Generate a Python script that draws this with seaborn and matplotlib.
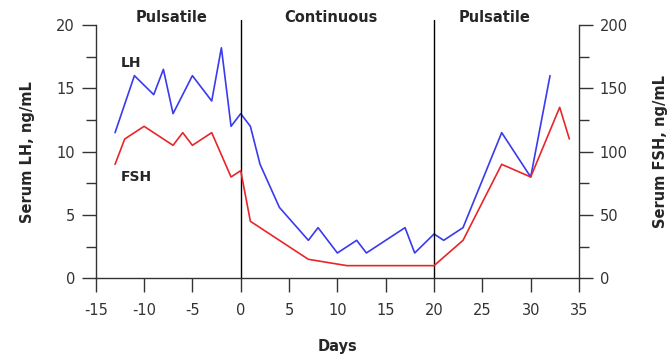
import numpy as np
import pandas as pd
import matplotlib
matplotlib.use("Agg")
import matplotlib.pyplot as plt
import seaborn as sns

# LH (left axis, ng/mL)
lh_days = [-13, -11, -9, -8, -7, -5, -3, -2, -1, 0, 1, 2, 4, 7, 8, 10, 12, 13, 17, 18, 20, 21, 23, 27, 30, 32]
lh_vals = [11.5, 16, 14.5, 16.5, 13, 16, 14, 18.2, 12, 13, 12, 9, 5.6, 3, 4, 2, 3, 2, 4, 2, 3.5, 3, 4, 11.5, 8, 16]

# FSH (right axis, ng/mL)
fsh_days = [-13, -12, -10, -7, -6, -5, -3, -1, 0, 1, 7, 11, 20, 23, 27, 30, 33, 34]
fsh_vals = [90, 110, 120, 105, 115, 105, 115, 80, 85, 45, 15, 10, 10, 30, 90, 80, 135, 110]

phases = ["Pulsatile", "Continuous", "Pulsatile"]
phase_pos = [-7.2, 9.3, 26.3]
switch_days = [0, 20]

lh = pd.DataFrame({"day": lh_days, "value": lh_vals})
fsh = pd.DataFrame({"day": fsh_days, "value": fsh_vals})

sns.set_style("ticks")
plt.rcParams["font.family"] = ["DejaVu Sans"]
plt.rcParams["axes.unicode_minus"] = False

fig = plt.figure(figsize=(6.68, 3.54), dpi=100)
ax = fig.add_axes([0.1433, 0.2138, 0.7235, 0.7156])
ax2 = ax.twinx()

sns.lineplot(data=lh, x="day", y="value", ax=ax, color="#3a3aee", linewidth=1.2)
sns.lineplot(data=fsh, x="day", y="value", ax=ax2, color="#e8262a", linewidth=1.2)

ax.set_xlim(-15, 35)
ax.set_ylim(0, 20)
ax2.set_ylim(0, 200)
ax.set_xticks(np.arange(-15, 36, 5))
ax.set_yticks(np.arange(0, 21, 5))
ax.set_yticks(np.arange(2.5, 20, 5), minor=True)
ax2.set_yticks(np.arange(0, 201, 50))
ax2.set_yticks(np.arange(25, 200, 50), minor=True)

for a in (ax, ax2):
    a.spines["top"].set_visible(False)
    for s in a.spines.values():
        s.set_color("#333333")
        s.set_linewidth(1.0)
ax.spines["right"].set_visible(False)
ax2.spines["left"].set_visible(False)
ax2.spines["bottom"].set_visible(False)

ax.tick_params(axis="y", which="major", length=10, width=1, color="#333333",
               labelsize=10.5, labelcolor="#333333", pad=5)
ax.tick_params(axis="x", which="major", length=10, width=1, color="#333333",
               labelsize=10.5, labelcolor="#333333", pad=8)
ax.tick_params(axis="y", which="minor", length=7, width=1, color="#333333")
ax2.tick_params(axis="y", which="major", length=10, width=1, color="#333333",
                labelsize=10.5, labelcolor="#333333", pad=5)
ax2.tick_params(axis="y", which="minor", length=7, width=1, color="#333333")

for d in switch_days:
    ax.plot([d, d], [0, 20.4], color="black", linewidth=1.0, clip_on=False)

for name, xpos in zip(phases, phase_pos):
    ax.text(xpos, 20.6, name, ha="center", va="center", fontsize=10.5, fontweight="bold")

ax.text(-11.3, 17.0, "LH", ha="center", va="center", fontsize=10, fontweight="bold")
ax.text(-10.8, 8.0, "FSH", ha="center", va="center", fontsize=10, fontweight="bold")

ax.set_xlabel("Days", fontsize=10.5, fontweight="bold", labelpad=15)
ax.set_ylabel("Serum LH, ng/mL", fontsize=10.5, fontweight="bold", labelpad=15)
ax2.set_ylabel("Serum FSH, ng/mL", fontsize=10.5, fontweight="bold", labelpad=18)

fig.savefig("out.png", dpi=100)
